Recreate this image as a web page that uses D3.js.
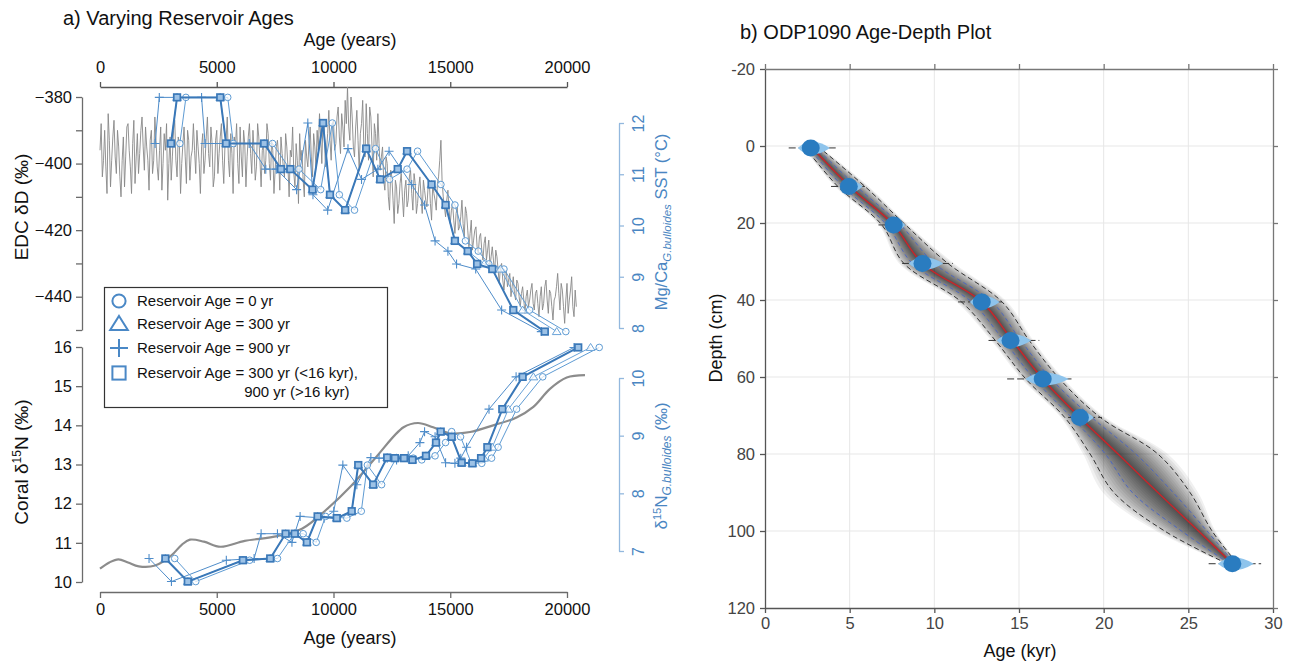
<!DOCTYPE html>
<html>
<head>
<meta charset="utf-8">
<script src="https://cdn.jsdelivr.net/npm/d3@7"></script>
<style>
  body { margin: 0; background: #fff; }
  svg { font-family: "Liberation Sans", Arial, sans-serif; }
</style>
</head>
<body>
<svg id="chart" width="1301" height="664"></svg>
<script>
/* ---- panel a data ---- */
const ageTicks = [0, 5000, 10000, 15000, 20000];
const ddTicks = [-380, -390, -400, -410, -420, -430, -440, -450];
const sstTicks = [8, 9, 10, 11, 12];
const coralTicks = [10, 11, 12, 13, 14, 15, 16];
const nTicks = [7, 8, 9, 10];

// EDC deuterium [age (yr), dD (permil)]
const edc = [
  [0,-396],[100,-404],[200,-390],[300,-409],[400,-393],[500,-399],[600,-387],[700,-403],[800,-395],[900,-410],
  [1000,-392],[1100,-398],[1200,-388],[1300,-401],[1400,-394],[1500,-406],[1600,-391],[1700,-397],[1800,-386],[1900,-402],
  [2000,-395],[2100,-408],[2200,-390],[2300,-399],[2400,-393],[2500,-405],[2600,-389],[2700,-400],[2800,-396],[2900,-411],
  [3000,-392],[3100,-398],[3200,-387],[3300,-404],[3400,-394],[3500,-400],[3600,-389],[3700,-406],[3800,-393],[3900,-398],
  [4000,-388],[4100,-403],[4200,-395],[4300,-409],[4400,-391],[4500,-399],[4600,-386],[4700,-401],[4800,-394],[4900,-404],
  [5000,-390],[5100,-397],[5200,-388],[5300,-406],[5400,-393],[5500,-399],[5600,-391],[5700,-409],[5800,-395],[5900,-400],
  [6000,-389],[6100,-404],[6200,-394],[6300,-398],[6400,-388],[6500,-403],[6600,-396],[6700,-401],[6800,-392],[6900,-407],
  [7000,-394],[7100,-399],[7200,-391],[7300,-405],[7400,-396],[7500,-402],[7600,-393],[7700,-408],[7800,-397],[7900,-404],
  [8000,-395],[8100,-410],[8200,-398],[8300,-403],[8400,-394],[8500,-412],[8600,-399],[8700,-405],[8800,-393],[8900,-401],
  [9000,-389],[9100,-404],[9200,-395],[9300,-390],[9400,-385],[9500,-400],[9600,-388],[9700,-396],[9800,-384],[9900,-399],
  [10000,-387],[10100,-394],[10200,-383],[10300,-397],[10400,-389],[10500,-381],[10600,-377],[10700,-393],[10800,-386],[10900,-398],
  [11000,-384],[11100,-402],[11200,-388],[11300,-395],[11400,-382],[11500,-399],[11600,-386],[11700,-404],[11800,-391],[11900,-385],
  [12000,-402],[12100,-395],[12200,-408],[12300,-400],[12400,-414],[12500,-404],[12600,-418],[12700,-407],[12800,-412],[12900,-403],
  [13000,-416],[13100,-405],[13200,-411],[13300,-402],[13400,-414],[13500,-406],[13600,-412],[13700,-404],[13800,-415],[13900,-408],
  [14000,-413],[14100,-405],[14200,-417],[14300,-409],[14400,-414],[14500,-404],[14600,-393],[14700,-410],[14800,-416],[14900,-408],
  [15000,-418],[15100,-412],[15200,-421],[15300,-413],[15400,-419],[15500,-411],[15600,-422],[15700,-415],[15800,-425],[15900,-417],
  [16000,-423],[16100,-419],[16200,-427],[16300,-421],[16400,-429],[16500,-422],[16600,-426],[16700,-431],[16800,-425],[16900,-433],
  [17000,-428],[17100,-436],[17200,-430],[17300,-438],[17400,-432],[17500,-435],[17600,-440],[17700,-434],[17800,-441],[17900,-436],
  [18000,-443],[18100,-437],[18200,-445],[18300,-438],[18400,-441],[18500,-436],[18600,-444],[18700,-438],[18800,-446],[18900,-437],
  [19000,-442],[19100,-435],[19200,-445],[19300,-439],[19400,-447],[19500,-440],[19600,-433],[19700,-444],[19800,-438],[19900,-448],
  [20000,-436],[20100,-441],[20200,-434],[20300,-446],[20400,-443]
];
// EDC samples between the ones above
const edcMid = [
  [50,-388],[150,-399],[250,-401],[350,-385],[450,-407],[550,-392],[650,-398],[750,-390],[850,-404],[950,-399],
  [1050,-407],[1150,-389],[1250,-396],[1350,-409],[1450,-387],[1550,-398],[1650,-403],[1750,-390],[1850,-395],[1950,-389],
  [2050,-399],[2150,-393],[2250,-403],[2350,-386],[2450,-401],[2550,-396],[2650,-408],[2750,-391],[2850,-388],[2950,-400],
  [3050,-405],[3150,-390],[3250,-399],[3350,-392],[3450,-409],[3550,-394],[3650,-398],[3750,-390],[3850,-405],[3950,-396],
  [4050,-396],[4150,-390],[4250,-400],[4350,-395],[4450,-403],[4550,-392],[4650,-397],[4750,-389],[4850,-407],[4950,-393],
  [5050,-403],[5150,-392],[5250,-399],[5350,-395],[5450,-386],[5550,-404],[5650,-397],[5750,-392],[5850,-388],[5950,-406],
  [6050,-398],[6150,-390],[6250,-407],[6350,-392],[6450,-397],[6550,-390],[6650,-405],[6750,-388],[6850,-399],[6950,-396],
  [7050,-403],[7150,-388],[7250,-400],[7350,-393],[7450,-409],[7550,-395],[7650,-398],[7750,-392],[7850,-401],[7950,-391],
  [8050,-401],[8150,-396],[8250,-389],[8350,-407],[8450,-399],[8550,-391],[8650,-396],[8750,-410],[8850,-398],[8950,-394],
  [9050,-398],[9150,-391],[9250,-401],[9350,-396],[9450,-392],[9550,-387],[9650,-401],[9750,-391],[9850,-393],[9950,-388],
  [10050,-396],[10150,-386],[10250,-392],[10350,-385],[10450,-395],[10550,-388],[10650,-389],[10750,-380],[10850,-395],[10950,-389],
  [11050,-393],[11150,-391],[11250,-381],[11350,-398],[11450,-391],[11550,-383],[11650,-395],[11750,-388],[11850,-399],[11950,-394],
  [12050,-398],[12150,-405],[12250,-398],[12350,-410],[12450,-402],[12550,-411],[12650,-405],[12750,-415],[12850,-406],[12950,-410],
  [13050,-408],[13150,-413],[13250,-404],[13350,-409],[13450,-403],[13550,-415],[13650,-407],[13750,-410],[13850,-405],[13950,-411],
  [14050,-407],[14150,-412],[14250,-406],[14350,-411],[14450,-406],[14550,-399],[14650,-405],[14750,-413],[14850,-411],[14950,-414],
  [15050,-414],[15150,-417],[15250,-415],[15350,-420],[15450,-416],[15550,-418],[15650,-413],[15750,-420],[15850,-421],[15950,-426],
  [16050,-420],[16150,-425],[16250,-422],[16350,-426],[16450,-424],[16550,-429],[16650,-423],[16750,-428],[16850,-429],[16950,-426],
  [17050,-432],[17150,-431],[17250,-435],[17350,-433],[17450,-437],[17550,-433],[17650,-437],[17750,-439],[17850,-435],[17950,-440],
  [18050,-439],[18150,-441],[18250,-440],[18350,-443],[18450,-438],[18550,-442],[18650,-439],[18750,-442],[18850,-440],[18950,-444],
  [19050,-437],[19150,-441],[19250,-438],[19350,-443],[19450,-441],[19550,-437],[19650,-439],[19750,-436],[19850,-443],[19950,-441],
  [20050,-445],[20150,-438],[20250,-443],[20350,-438]
];

// Mg/Ca SST, one value set, four age models
const sstVal    = [11.6,12.5,12.5,11.6,11.6,11.1,11.1,10.7,12.0,10.6,10.3,11.5,10.9,11.1,11.45,10.8,10.4,9.7,9.5,9.25,9.15,8.35,7.93];
const sstAgeSq  = [3040,3300,5150,5400,7030,7750,8150,9100,9550,9850,10500,11400,12000,12750,13150,14200,14800,15200,15750,16150,16800,17700,19050];
const sstAgeTri = [3040,3300,5150,5400,7030,7750,8150,9100,9550,9850,10500,11400,12000,12750,13150,14200,14800,15200,15750,16450,17150,18100,19560];
const sstAgeCi  = [3420,3680,5470,5710,7390,8130,8520,9450,9950,10250,10900,11800,12400,13150,13600,14600,15200,15650,16200,16650,17300,18400,19950];
const sstAgePl  = [2360,2540,4350,4500,6390,7100,7550,8420,8900,9120,9750,10620,11200,11900,12380,13350,13900,14350,14900,15270,16090,17200,18900];

// coral d15N
const coralAge = [0,400,790,1200,1660,2360,3060,3500,3850,4450,5160,6200,7600,8650,9700,10750,11840,13000,13620,14270,14990,15850,16840,17840,18560,19270,19990,20770];
const coralVal = [10.34,10.5,10.58,10.5,10.4,10.42,10.68,10.95,11.08,11.03,10.9,11.05,11.17,11.36,11.85,12.45,13.2,13.95,14.06,13.95,13.8,13.83,14.0,14.2,14.47,14.93,15.22,15.28];

// d15N G. bulloides, one value set, four age models
const nVal    = [6.87,6.47,6.84,6.87,7.30,7.30,7.15,7.60,7.57,7.69,8.49,8.15,8.62,8.61,8.61,8.58,8.65,8.88,9.07,8.98,8.53,8.52,8.61,8.80,9.46,10.02,10.53];
const nAgeSq  = [2800,3760,6120,7290,7950,8340,8860,9320,10140,10780,11060,11700,12300,12630,13020,13380,13960,14390,14590,15060,15490,15950,16320,16590,17230,18100,20480];
const nAgeTri = [2800,3760,6120,7290,7950,8340,8860,9320,10140,10780,11060,11700,12300,12630,13020,13380,13960,14390,14590,15060,15490,15950,16450,16800,17490,18560,21010];
const nAgeCi  = [3200,4100,6410,7600,8330,8700,9260,9660,10570,11190,11450,12060,12700,13050,13420,13780,14350,14800,15060,15440,15900,16350,16770,17050,17840,18960,21380];
const nAgePl  = [2100,3060,5410,6600,6900,7600,8220,8570,9600,10010,10400,11000,11600,11950,12300,12700,13200,13700,13900,14350,14800,15200,15450,15700,16660,17820,20300];

const legendLabels = ["Reservoir Age = 0 yr", "Reservoir Age = 300 yr", "Reservoir Age = 900 yr",
  "Reservoir Age = 300 yr (<16 kyr),", "900 yr (>16 kyr)"];

/* ---- panel b data ---- */
const kyrTicks = [0, 5, 10, 15, 20, 25, 30];
const depthTicks = [-20, 0, 20, 40, 60, 80, 100, 120];

const datAge   = [2.7, 4.95, 7.6, 9.3, 12.8, 14.5, 16.4, 18.6, 27.6];
const datDepth = [0.5, 10.5, 20.5, 30.5, 40.5, 50.5, 60.5, 70.5, 108.5];
const datLo    = [1.4, 3.9, 6.7, 8.1, 11.4, 13.2, 14.3, 17.9, 26.2];
const datHi    = [4.2, 5.9, 8.4, 11.1, 14.0, 16.2, 18.1, 19.9, 29.3];

const modelDepth = [0, 10.5, 20.5, 30.5, 40.5, 50.5, 60.5, 70.5, 80, 90, 100, 108.5];
const modelMed   = [2.7, 5.0, 7.6, 9.3, 12.8, 14.6, 16.4, 18.6, 20.85, 23.2, 25.6, 27.6];
const outerLo    = [2.3, 4.3, 6.9, 8.2, 11.6, 13.6, 15.4, 17.7, 19.2, 20.6, 23.6, 27.3];
const outerHi    = [3.1, 5.9, 8.3, 10.8, 14.0, 15.6, 17.4, 19.8, 23.2, 25.1, 26.4, 27.9];
const innerLo    = [2.5, 4.6, 7.2, 8.7, 12.2, 14.1, 15.9, 18.1, 20.1, 21.7, 24.6, 27.45];
const innerHi    = [2.9, 5.4, 8.0, 10.0, 13.4, 15.1, 16.9, 19.3, 21.9, 24.1, 26.1, 27.75];

/* ---- drawing ---- */
const FONT = '"Liberation Sans", Arial, sans-serif';
const svg = d3.select("#chart");
const axGray = "#6b6b6b", axBlue = "#93b8de", txtBlue = "#4a86c2";

function styleAxis(g, line, text, size) {
  g.attr("font-family", FONT).attr("font-size", size);
  g.select(".domain").attr("stroke", line).attr("stroke-width", 1.3);
  g.selectAll(".tick line").attr("stroke", line).attr("stroke-width", 1.3);
  g.selectAll(".tick text").attr("fill", text);
}

/* panel a */
const xA = d3.scaleLinear().domain([0, 20000]).range([100, 567]);
const yDD = d3.scaleLinear().domain([-380, -450]).range([97, 330]);
const ySST = d3.scaleLinear().domain([8, 12]).range([328, 123]);
const yCoral = d3.scaleLinear().domain([10, 16]).range([582, 347]);
const yN = d3.scaleLinear().domain([7, 10]).range([551, 378]);

svg.append("text").attr("x", 63).attr("y", 25).attr("font-size", 20).attr("fill", "#111")
  .text("a) Varying Reservoir Ages");

let gTop = svg.append("g").attr("transform", "translate(0,87)")
  .call(d3.axisTop(xA).tickValues(ageTicks).tickSize(5).tickSizeOuter(0).tickPadding(9).tickFormat(d3.format("d")));
styleAxis(gTop, "#555", "#111", 16.5);
svg.append("text").attr("x", 350).attr("y", 46).attr("text-anchor", "middle").attr("font-size", 18)
  .attr("fill", "#111").text("Age (years)");

let gBot = svg.append("g").attr("transform", "translate(0,592)")
  .call(d3.axisBottom(xA).tickValues(ageTicks).tickSize(6).tickSizeOuter(0).tickPadding(5).tickFormat(d3.format("d")));
styleAxis(gBot, axGray, "#111", 16.5);
svg.append("text").attr("x", 350).attr("y", 644).attr("text-anchor", "middle").attr("font-size", 18)
  .attr("fill", "#111").text("Age (years)");

let gDD = svg.append("g").attr("transform", "translate(82,0)")
  .call(d3.axisLeft(yDD).tickValues(ddTicks).tickSize(6).tickSizeOuter(0).tickPadding(4)
    .tickFormat(d => d % 20 === 0 ? d3.format("d")(d) : ""));
styleAxis(gDD, axGray, "#111", 16.5);

let gCoral = svg.append("g").attr("transform", "translate(82,0)")
  .call(d3.axisLeft(yCoral).tickValues(coralTicks).tickSize(6).tickSizeOuter(0).tickPadding(4).tickFormat(d3.format("d")));
styleAxis(gCoral, axGray, "#111", 16.5);

function rotLabels(g) {
  g.selectAll(".tick text").attr("x", 0).attr("dy", "0.35em")
    .attr("text-anchor", "middle").attr("transform", "translate(19,0) rotate(-90)");
}
let gSST = svg.append("g").attr("transform", "translate(619,0)")
  .call(d3.axisRight(ySST).tickValues(sstTicks).tickSize(5).tickSizeOuter(0).tickFormat(d3.format("d")));
styleAxis(gSST, axBlue, txtBlue, 16);
rotLabels(gSST);

let gN = svg.append("g").attr("transform", "translate(619,0)")
  .call(d3.axisRight(yN).tickValues(nTicks).tickSize(5).tickSizeOuter(0).tickFormat(d3.format("d")));
styleAxis(gN, axBlue, txtBlue, 16);
rotLabels(gN);

// axis titles
svg.append("text").attr("transform", "translate(28,207) rotate(-90)").attr("text-anchor", "middle")
  .attr("font-size", 19).attr("fill", "#111").text("EDC δD (‰)");
let tc = svg.append("text").attr("transform", "translate(28,462) rotate(-90)").attr("text-anchor", "middle")
  .attr("font-size", 19).attr("fill", "#111");
tc.append("tspan").text("Coral δ");
tc.append("tspan").attr("font-size", 12).attr("dy", -7).text("15");
tc.append("tspan").attr("dy", 7).text("N (‰)");

let ts = svg.append("text").attr("transform", "translate(667,222) rotate(-90)").attr("text-anchor", "middle")
  .attr("font-size", 16.5).attr("fill", txtBlue);
ts.append("tspan").text("Mg/Ca");
ts.append("tspan").attr("font-size", 11.5).attr("font-style", "italic").attr("dy", 4).text("G.bulloides");
ts.append("tspan").attr("dy", -4).text(" SST (°C)");

let tn = svg.append("text").attr("transform", "translate(667,466) rotate(-90)").attr("text-anchor", "middle")
  .attr("font-size", 17).attr("fill", txtBlue);
tn.append("tspan").text("δ");
tn.append("tspan").attr("font-size", 11).attr("dy", -6).text("15");
tn.append("tspan").attr("dy", 6).text("N");
tn.append("tspan").attr("font-size", 12).attr("font-style", "italic").attr("dy", 4).text("G.bulloides");
tn.append("tspan").attr("dy", -4).text(" (‰)");

// EDC curve (both sample sets merged by age)
const edcAll = edc.concat(edcMid).sort((a, b) => a[0] - b[0]);
svg.append("path")
  .attr("d", d3.line().x(d => xA(d[0])).y(d => yDD(d[1]))(edcAll))
  .attr("fill", "none").attr("stroke", "#888").attr("stroke-width", 0.9);

// coral curve
svg.append("path")
  .attr("d", d3.line().curve(d3.curveCatmullRom).x(d => xA(d)).y((d, i) => yCoral(coralVal[i]))(coralAge))
  .attr("fill", "none").attr("stroke", "#8c8c8c").attr("stroke-width", 2.2);

function marker(g, shape, x, y, st, s) {
  s = s || 1;
  if (shape === "circle") {
    g.append("circle").attr("cx", x).attr("cy", y).attr("r", 3.3 * s)
      .attr("fill", "#fff").attr("fill-opacity", 0.7).attr("stroke", st.color).attr("stroke-width", st.mw);
  } else if (shape === "tri") {
    let r = 4 * s;
    g.append("path").attr("d", `M${x},${y - r}L${x + r * 1.1},${y + r * 0.75}L${x - r * 1.1},${y + r * 0.75}Z`)
      .attr("fill", "#fff").attr("fill-opacity", 0.7).attr("stroke", st.color).attr("stroke-width", st.mw);
  } else if (shape === "plus") {
    let r = 4.5 * s;
    g.append("path").attr("d", `M${x - r},${y}H${x + r}M${x},${y - r}V${y + r}`)
      .attr("stroke", st.color).attr("stroke-width", st.mw);
  } else {
    let r = 3.3 * s;
    g.append("rect").attr("x", x - r).attr("y", y - r).attr("width", 2 * r).attr("height", 2 * r)
      .attr("fill", st.fill).attr("stroke", st.color).attr("stroke-width", st.mw);
  }
}

const styles = {
  plus:   { color: "#4f8dca", width: 1, mw: 1.1 },
  circle: { color: "#5e9bd3", width: 1, mw: 1 },
  tri:    { color: "#6aa3d8", width: 1, mw: 1 },
  square: { color: "#3a78b8", width: 2, mw: 1.7, fill: "#9dc2e6" }
};

function drawSeries(ages, vals, y, shape) {
  const st = styles[shape];
  const g = svg.append("g");
  g.append("path")
    .attr("d", d3.line().x(d => xA(d)).y((d, i) => y(vals[i]))(ages))
    .attr("fill", "none").attr("stroke", st.color).attr("stroke-width", st.width);
  ages.forEach((a, i) => marker(g, shape, xA(a), y(vals[i]), st));
}

drawSeries(sstAgePl, sstVal, ySST, "plus");
drawSeries(sstAgeCi, sstVal, ySST, "circle");
drawSeries(sstAgeTri, sstVal, ySST, "tri");
drawSeries(sstAgeSq, sstVal, ySST, "square");

drawSeries(nAgePl, nVal, yN, "plus");
drawSeries(nAgeCi, nVal, yN, "circle");
drawSeries(nAgeTri, nVal, yN, "tri");
drawSeries(nAgeSq, nVal, yN, "square");

// legend
const leg = svg.append("g");
leg.append("rect").attr("x", 104.5).attr("y", 287.5).attr("width", 283).attr("height", 120)
  .attr("fill", "#fff").attr("stroke", "#333").attr("stroke-width", 1.2);
const legShapes = ["circle", "tri", "plus", "square"];
const legY = [301, 324, 348, 373];
const legStyle = { color: "#4a88c6", mw: 2, fill: "#fff" };
legShapes.forEach((s, i) => {
  marker(leg, s, 119, legY[i], legStyle, 2);
  leg.append("text").attr("x", 137).attr("y", legY[i]).attr("dy", "0.35em")
    .attr("font-size", 15).attr("fill", "#111").text(legendLabels[i]);
});
// align the continuation line under "300 yr"
const probe = leg.append("text").attr("font-size", 15).text("Reservoir Age = ");
const indent = probe.node().getComputedTextLength();
probe.remove();
leg.append("text").attr("x", 137 + indent).attr("y", 392).attr("dy", "0.35em")
  .attr("font-size", 15).attr("fill", "#111").text(legendLabels[4]);

/* panel b */
const xK = d3.scaleLinear().domain([0, 30]).range([765, 1273]);
const yD = d3.scaleLinear().domain([-20, 120]).range([69, 608]);
const R = svg.append("g");

R.append("text").attr("x", 740).attr("y", 39).attr("font-size", 20).attr("fill", "#111")
  .text("b) ODP1090 Age-Depth Plot");

R.append("g").selectAll("line").data(kyrTicks.slice(1, -1)).join("line")
  .attr("x1", d => xK(d)).attr("x2", d => xK(d)).attr("y1", yD(-20)).attr("y2", yD(120))
  .attr("stroke", "#e7e7e7");
R.append("g").selectAll("line").data(depthTicks.slice(1, -1)).join("line")
  .attr("y1", d => yD(d)).attr("y2", d => yD(d)).attr("x1", xK(0)).attr("x2", xK(30))
  .attr("stroke", "#e7e7e7");

const model = modelDepth.map((d, i) => ({
  d, m: modelMed[i], lo: outerLo[i], hi: outerHi[i], ilo: innerLo[i], ihi: innerHi[i]
}));

// shaded probability cloud as stacked translucent bands, denser near the median
const nLev = 18;
for (let k = nLev; k >= 1; k--) {
  const f = 1.25 * Math.pow(k / nLev, 1.2);
  const band = d3.area().curve(d3.curveCatmullRom)
    .y(r => yD(r.d))
    .x0(r => xK(r.m + (r.lo - r.m) * f))
    .x1(r => xK(r.m + (r.hi - r.m) * f));
  R.append("path").attr("d", band(model)).attr("fill", "#000").attr("fill-opacity", 0.06);
}

function bound(acc) {
  return d3.line().curve(d3.curveCatmullRom).x(r => xK(acc(r))).y(r => yD(r.d))(model);
}
[r => r.lo, r => r.hi].forEach(a => R.append("path").attr("d", bound(a)).attr("fill", "none")
  .attr("stroke", "#333").attr("stroke-width", 1).attr("stroke-dasharray", "5,3"));
[r => r.ilo, r => r.ihi].forEach(a => R.append("path").attr("d", bound(a)).attr("fill", "none")
  .attr("stroke", "#4e68c0").attr("stroke-width", 1).attr("stroke-dasharray", "4,3"));
R.append("path").attr("d", bound(r => r.m)).attr("fill", "none")
  .attr("stroke", "#c8262b").attr("stroke-width", 1.5);

// dated levels
datAge.forEach((a, i) => {
  const cx = xK(a), cy = yD(datDepth[i]);
  R.append("line").attr("x1", xK(datLo[i])).attr("x2", xK(datHi[i])).attr("y1", cy).attr("y2", cy)
    .attr("stroke", "#333").attr("stroke-width", 1).attr("stroke-dasharray", "7,3");
  const hw = (xK(datHi[i]) - xK(datLo[i])) * 0.34;
  R.append("path")
    .attr("d", `M${cx - hw * 0.8},${cy}Q${cx},${cy - 13} ${cx + hw * 1.2},${cy}Q${cx},${cy + 13} ${cx - hw * 0.8},${cy}Z`)
    .attr("fill", "#8ec4ec");
  R.append("ellipse").attr("cx", cx).attr("cy", cy).attr("rx", 9).attr("ry", 8.5).attr("fill", "#2a7cc0");
});

let gKx = R.append("g").attr("transform", "translate(0,608)")
  .call(d3.axisBottom(xK).tickValues(kyrTicks).tickSize(5).tickSizeOuter(0).tickPadding(4));
styleAxis(gKx, "#555", "#444", 16.5);
let gKt = R.append("g").attr("transform", "translate(0,69)")
  .call(d3.axisTop(xK).tickValues(kyrTicks).tickSize(5).tickSizeOuter(0).tickFormat(""));
styleAxis(gKt, "#777", "#444", 16.5);
let gDy = R.append("g").attr("transform", "translate(765,0)")
  .call(d3.axisLeft(yD).tickValues(depthTicks).tickSize(5).tickSizeOuter(0).tickPadding(5).tickFormat(d => String(d)));
styleAxis(gDy, "#555", "#444", 16.5);
let gDr = R.append("g").attr("transform", "translate(1273,0)")
  .call(d3.axisRight(yD).tickValues(depthTicks).tickSize(5).tickSizeOuter(0).tickFormat(""));
styleAxis(gDr, "#777", "#444", 16.5);

R.append("text").attr("transform", "translate(722,338) rotate(-90)").attr("text-anchor", "middle")
  .attr("font-size", 18).attr("fill", "#111").text("Depth (cm)");
R.append("text").attr("x", 1020).attr("y", 657).attr("text-anchor", "middle")
  .attr("font-size", 18).attr("fill", "#111").text("Age (kyr)");
</script>
</body>
</html>
